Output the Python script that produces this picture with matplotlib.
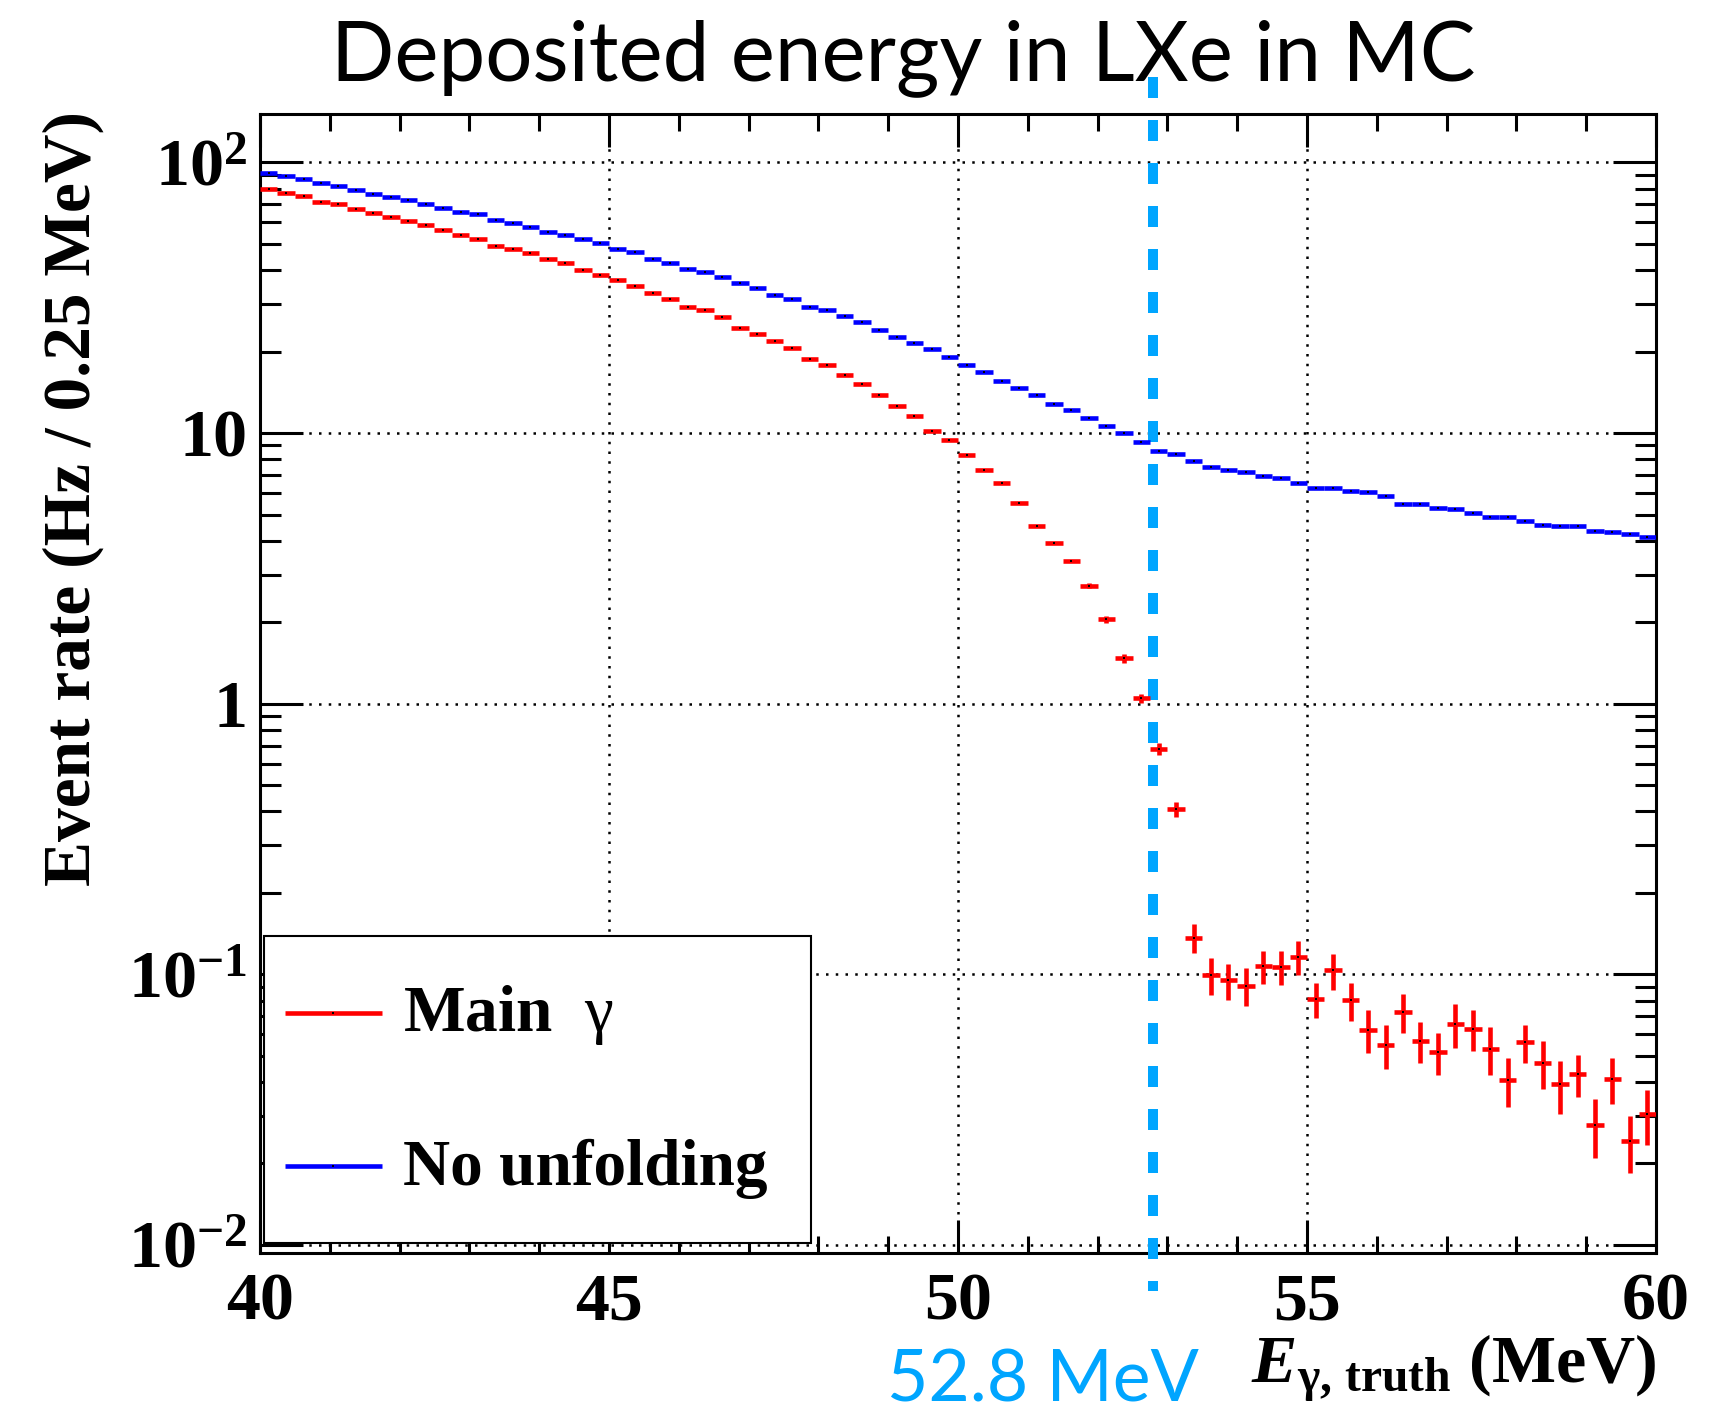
import numpy as np
import matplotlib
matplotlib.use("Agg")
import matplotlib.pyplot as plt
from matplotlib.patches import Rectangle
from matplotlib.ticker import MultipleLocator, LogLocator, FuncFormatter, NullFormatter

plt.rcParams["font.family"] = "Liberation Serif"
plt.rcParams["font.weight"] = "bold"
plt.rcParams["mathtext.fontset"] = "custom"
plt.rcParams["mathtext.rm"] = "Liberation Serif:weight=normal"
plt.rcParams["mathtext.it"] = "Liberation Serif:italic:weight=normal"
plt.rcParams["mathtext.bf"] = "Liberation Serif:bold"
plt.rcParams["mathtext.bfit"] = "Liberation Serif:italic:bold"

# 0.25 MeV bins from 40 to 60 MeV
bin_width = 0.25
e_low, e_high = 40.0, 60.0
energy = np.arange(e_low, e_high, bin_width) + bin_width / 2

# Main gamma rate (Hz / 0.25 MeV) and its statistical error
main_rate = [
    79.8, 77.1, 74.9, 71.5, 69.9, 67.3, 64.8, 63.0, 60.5, 58.5,
    56.4, 53.7, 51.9, 49.3, 47.8, 46.3, 44.0, 42.5, 40.1, 38.5,
    36.8, 34.9, 32.8, 31.3, 29.2, 28.5, 26.9, 24.5, 23.3, 21.9,
    20.6, 18.8, 17.9, 16.4, 15.2, 13.8, 12.6, 11.6, 10.2, 9.41,
    8.30, 7.33, 6.55, 5.51, 4.53, 3.92, 3.36, 2.73, 2.05, 1.47,
    1.047, 0.682, 0.407, 0.1365, 0.0996, 0.0949, 0.0907, 0.1072, 0.1066, 0.1161,
    0.0812, 0.1033, 0.0801, 0.0624, 0.0547, 0.0727, 0.0568, 0.0516, 0.0656, 0.0629,
    0.0531, 0.0407, 0.0560, 0.0471, 0.0392, 0.0429, 0.0278, 0.0412, 0.0242, 0.0304,
]
main_err = [
    0, 0, 0, 0, 0, 0, 0, 0, 0, 0,
    0, 0, 0, 0, 0, 0, 0, 0, 0, 0,
    0, 0, 0, 0, 0, 0, 0, 0, 0, 0,
    0, 0, 0, 0, 0, 0, 0, 0, 0, 0,
    0, 0, 0, 0, 0, 0, 0, 0.065, 0.058, 0.053,
    0.042, 0.035, 0.027, 0.0163, 0.0154, 0.0147, 0.0144, 0.0148, 0.0156, 0.0165,
    0.0120, 0.0156, 0.0130, 0.0112, 0.0102, 0.0120, 0.0096, 0.0092, 0.0120, 0.0108,
    0.0105, 0.0084, 0.0091, 0.0094, 0.0088, 0.0076, 0.0068, 0.0079, 0.0057, 0.0070,
]
# Rate without unfolding
no_unfold_rate = [
    91.4, 89.1, 87.1, 83.6, 81.8, 79.3, 76.6, 74.7, 72.6, 70.0,
    68.0, 65.8, 64.3, 61.4, 59.5, 57.7, 55.4, 53.9, 51.9, 50.2,
    47.7, 46.5, 44.0, 42.5, 40.4, 39.2, 37.8, 35.8, 34.4, 32.5,
    31.4, 29.3, 28.5, 27.0, 25.7, 24.1, 22.7, 21.6, 20.4, 19.1,
    17.9, 16.8, 15.6, 14.7, 13.8, 12.8, 12.2, 11.4, 10.6, 9.99,
    9.30, 8.61, 8.36, 7.85, 7.52, 7.33, 7.20, 6.95, 6.83, 6.56,
    6.26, 6.29, 6.10, 6.03, 5.84, 5.49, 5.49, 5.28, 5.22, 5.05,
    4.91, 4.90, 4.73, 4.59, 4.53, 4.53, 4.36, 4.30, 4.23, 4.14,
]
series_labels = [r"Main  $\mathrm{\gamma}$", "No unfolding"]
series_colors = ["#ff0000", "#0000ff"]
signal_energy = 52.8
signal_color = "#00a5ff"

fig = plt.figure(figsize=(17.17, 14.14), dpi=100)
ax = fig.add_axes([0.1514, 0.1139, 0.8131, 0.8055])

ax.errorbar(energy, no_unfold_rate, xerr=bin_width / 2, fmt="s", ms=1.8,
            mfc="black", mec="black", mew=0, ecolor=series_colors[1],
            elinewidth=3.3, capsize=0, zorder=3)
ax.errorbar(energy, main_rate, xerr=bin_width / 2, yerr=main_err, fmt="s", ms=1.8,
            mfc="black", mec="black", mew=0, ecolor=series_colors[0],
            elinewidth=3.3, capsize=0, zorder=3)

# signal line runs past the frame, top and bottom
ax.plot([signal_energy, signal_energy], [1.0325, -0.0334],
        transform=ax.get_xaxis_transform(), color=signal_color, lw=7.2,
        dashes=(2.1, 2.2), clip_on=False, zorder=2.6)

ax.set_xlim(e_low, e_high)
ax.set_yscale("log")
ax.set_ylim(0.00934, 151)

ax.xaxis.set_major_locator(MultipleLocator(5))
ax.xaxis.set_minor_locator(MultipleLocator(1))
ax.yaxis.set_major_locator(LogLocator(base=10, numticks=10))
ax.yaxis.set_minor_locator(LogLocator(base=10, subs=np.arange(2, 10), numticks=20))
ax.yaxis.set_minor_formatter(NullFormatter())


def decade_label(v, pos):
    e = int(round(np.log10(v)))
    if e == 0:
        return "1"
    if e == 1:
        return "10"
    return r"$\mathregular{10^{%d}}$" % e


ax.yaxis.set_major_formatter(FuncFormatter(decade_label))

ax.tick_params(which="both", direction="in", top=True, right=True, width=2.2,
               labelsize=49)
ax.tick_params(axis="x", which="major", length=24, pad=14)
ax.tick_params(axis="x", which="minor", length=12)
ax.tick_params(axis="y", which="major", length=31, pad=9)
ax.tick_params(axis="y", which="minor", length=15)
for sp in ax.spines.values():
    sp.set_linewidth(2.2)

ax.grid(which="major", color="black", linestyle=(0, (1, 2.9)), linewidth=1.8)

ax.set_ylabel("Event rate (Hz / 0.25 MeV)", fontsize=48.5, fontweight="bold",
              va="center")
ax.yaxis.set_label_coords(-0.1335, 0.662)
ax.set_xlabel(r"$\mathbfit{E}_{\mathregular{\gamma,\,truth}}$ (MeV)", fontsize=49,
              fontweight="bold", ha="right", va="baseline")
ax.xaxis.set_label_coords(1.0, -0.1140)

# legend box in the lower-left corner, drawn over the frame ticks
ax.add_patch(Rectangle((0.0029, 0.0088), 0.3918, 0.2695, transform=ax.transAxes,
                       facecolor="white", edgecolor="black", lw=1.5,
                       clip_on=False, zorder=10))
for label, color, y_line, y_text in zip(series_labels, series_colors,
                                         [0.2110, 0.0761], [0.1952, 0.0597]):
    ax.plot([0.0179, 0.0874], [y_line, y_line], transform=ax.transAxes,
            color=color, lw=3.3, solid_capstyle="butt", clip_on=False, zorder=11)
    ax.plot([0.05265], [y_line], "s", transform=ax.transAxes, ms=1.8,
            mfc="black", mec="black", mew=0, clip_on=False, zorder=12)
    ax.text(0.1022, y_text, label, transform=ax.transAxes, fontsize=47,
            fontweight="bold", ha="left", va="baseline", zorder=12)

fig.text(0.526, 0.9434, "Deposited energy in LXe in MC", family="Lato",
         weight="normal", fontsize=60, ha="center", va="baseline")
fig.text(0.6074, 0.0085, "52.8 MeV", family="Lato", weight="normal",
         fontsize=51.5, color=signal_color, ha="center", va="baseline")

fig.savefig("out.png", dpi=100)
